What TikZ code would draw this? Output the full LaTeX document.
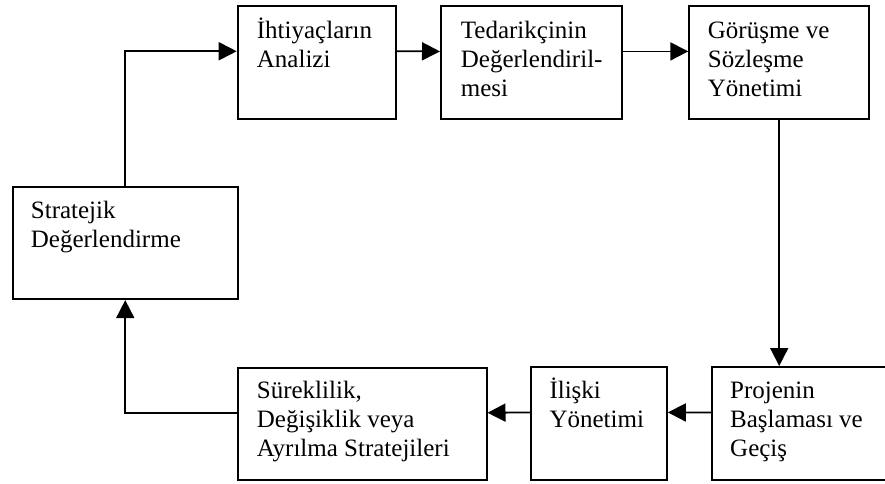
\documentclass[tikz,border=0pt]{standalone}
\usepackage{fontspec}
\setmainfont{Liberation Serif}
\usetikzlibrary{arrows.meta,calc}
\newcommand{\firstline}{\rule{0pt}{22pt}}
\begin{document}
\begin{tikzpicture}[x=1pt,y=1pt,
  box/.style={draw=black,line width=1.8pt,anchor=north west,inner sep=0pt},
  txt/.style={anchor=north west,align=left,inner sep=0pt,font=\fontsize{25}{29}\selectfont},
  arr/.style={line width=1.8pt,-{Triangle[length=18pt,width=18pt]}}]
\useasboundingbox (0,0) rectangle (885,-483);
\node[box,minimum width=225.3pt,minimum height=112.6pt] (A) at (11.7,-185.7) {};
\node[box,minimum width=158.6pt,minimum height=112.7pt] (B) at (236.7,-5) {};
\node[box,minimum width=180.7pt,minimum height=113pt] (C) at (440,-5) {};
\node[box,minimum width=180pt,minimum height=113pt] (D) at (688.3,-5) {};
\node[box,minimum width=180pt,minimum height=113.3pt] (E) at (711,-366) {};
\node[box,minimum width=136pt,minimum height=113pt] (F) at (530,-366) {};
\node[box,minimum width=249pt,minimum height=112.3pt] (G) at (236.7,-366.7) {};
\node[txt] (tA) at ($(A.north west)+(19pt,-10.6pt)$) {\firstline Stratejik\\Değerlendirme};
\node[txt] (tB) at ($(B.north west)+(20pt,-11.3pt)$) {\firstline İhtiyaçların\\Analizi};
\node[txt] (tC) at ($(C.north west)+(20.7pt,-11.3pt)$) {\firstline Tedarikçinin\\Değerlendiril-\\mesi};
\node[txt] (tD) at ($(D.north west)+(19.4pt,-11.3pt)$) {\firstline Görüşme ve\\Sözleşme\\Yönetimi};
\node[txt] (tE) at ($(E.north west)+(19pt,-10pt)$) {\firstline Projenin\\Başlaması ve\\Geçiş};
\node[txt] (tF) at ($(F.north west)+(19.3pt,-10pt)$) {\firstline İlişki\\Yönetimi};
\node[txt] (tG) at ($(G.north west)+(20pt,-9.3pt)$) {\firstline Süreklilik,\\Değişiklik veya\\Ayrılma Stratejileri};
\draw[arr] (A.north) |- ([yshift=11pt]B.west);
\draw[arr] ([yshift=11pt]B.east) -- ([yshift=11pt]C.west);
\draw[arr] ([yshift=11pt]C.east) -- ([yshift=11pt]D.west);
\draw[arr] (D.south) -- (D.south |- E.north);
\draw[arr] ([yshift=11pt]E.west) -- ([yshift=11pt]F.east);
\draw[arr] ([yshift=11pt]F.west) -- ([yshift=11pt]G.east);
\draw[arr] ([yshift=11pt]G.west) -| (A.south);
\end{tikzpicture}
\end{document}
